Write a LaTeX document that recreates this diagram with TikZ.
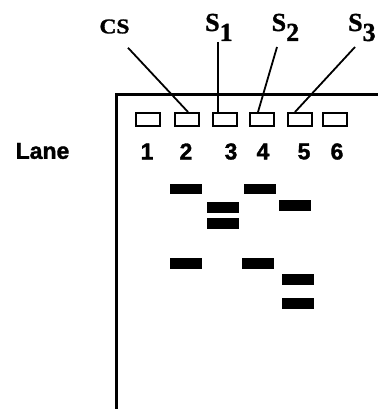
\documentclass[tikz,border=0pt]{standalone}
\usepackage{fontspec}
\newfontfamily\serifbold{Liberation Serif Bold}[FakeBold=1.2]
\newfontfamily\sansbold{Liberation Sans Bold}[FakeBold=1.5]
\usepackage{tikz}

\begin{document}
\begin{tikzpicture}[x=1pt, y=-1pt,
    well/.style={draw, line width=2pt, minimum width=24pt, minimum height=13pt, inner sep=0pt},
    band/.style={fill=black, minimum width=32pt, minimum height=10.5pt, inner sep=0pt},
    lanenum/.style={font=\sansbold\fontsize{23}{23}\selectfont, inner sep=0pt},
    sample/.style={font=\serifbold\fontsize{26}{26}\selectfont, inner sep=0pt, anchor=base west},
    leader/.style={line width=1.8pt}]
    \useasboundingbox (0,0) rectangle (378,409);

    % Gel
    \draw[line width=3pt] (116.5,409) -- (116.5,95) -- (378,95);

    % Wells
    \node[well] (w1) at (148,119.5) {};
    \node[well] (w2) at (187,119.5) {};
    \node[well] (w3) at (224.5,119.5) {};
    \node[well] (w4) at (262,119.5) {};
    \node[well] (w5) at (299.5,119.5) {};
    \node[well] (w6) at (335,119.5) {};

    % Lane labels
    \node[lanenum] (lane) at (42.5,151) {Lane};
    \node[lanenum] (n1) at (147,151.5) {1};
    \node[lanenum] (n2) at (186,151.5) {2};
    \node[lanenum] (n3) at (231,151.5) {3};
    \node[lanenum] (n4) at (263,151.5) {4};
    \node[lanenum] (n5) at (304,151.5) {5};
    \node[lanenum] (n6) at (337,151.5) {6};

    % Samples
    \node[font=\serifbold\fontsize{21}{21}\selectfont, inner sep=0pt] (cs) at (114.5,26.5) {\scalebox{1.12}[1]{CS}};
    \node[sample] (s1) at (205,31) {S\raisebox{-10pt}{1}};
    \node[sample] (s2) at (271.5,31) {S\raisebox{-10pt}{2}};
    \node[sample] (s3) at (348,31) {S\raisebox{-10pt}{3}};

    \draw[leader] ([shift={(13.5,14)}]cs.south) -- ([xshift=1pt]w2.north);
    \draw[leader] ([shift={(13,11)}]s1.base west) -- ([xshift=-6.5pt]w3.north);
    \draw[leader] ([shift={(5.5,16)}]s2.base west) -- ([xshift=-4pt]w4.north);
    \draw[leader] ([shift={(7,16)}]s3.base west) -- ([xshift=-4.5pt]w5.north);

    % Bands
    \node[band] (b2a) at (185.5,189) {};
    \node[band] (b2b) at (185.5,263.5) {};
    \node[band] (b3a) at (223,207.5) {};
    \node[band] (b3b) at (223,223.5) {};
    \node[band] (b4a) at (260,189) {};
    \node[band] (b4b) at (258,263.5) {};
    \node[band] (b5a) at (295,205.5) {};
    \node[band] (b5b) at (298,279.5) {};
    \node[band] (b5c) at (298,303.5) {};

\end{tikzpicture}
\end{document}
